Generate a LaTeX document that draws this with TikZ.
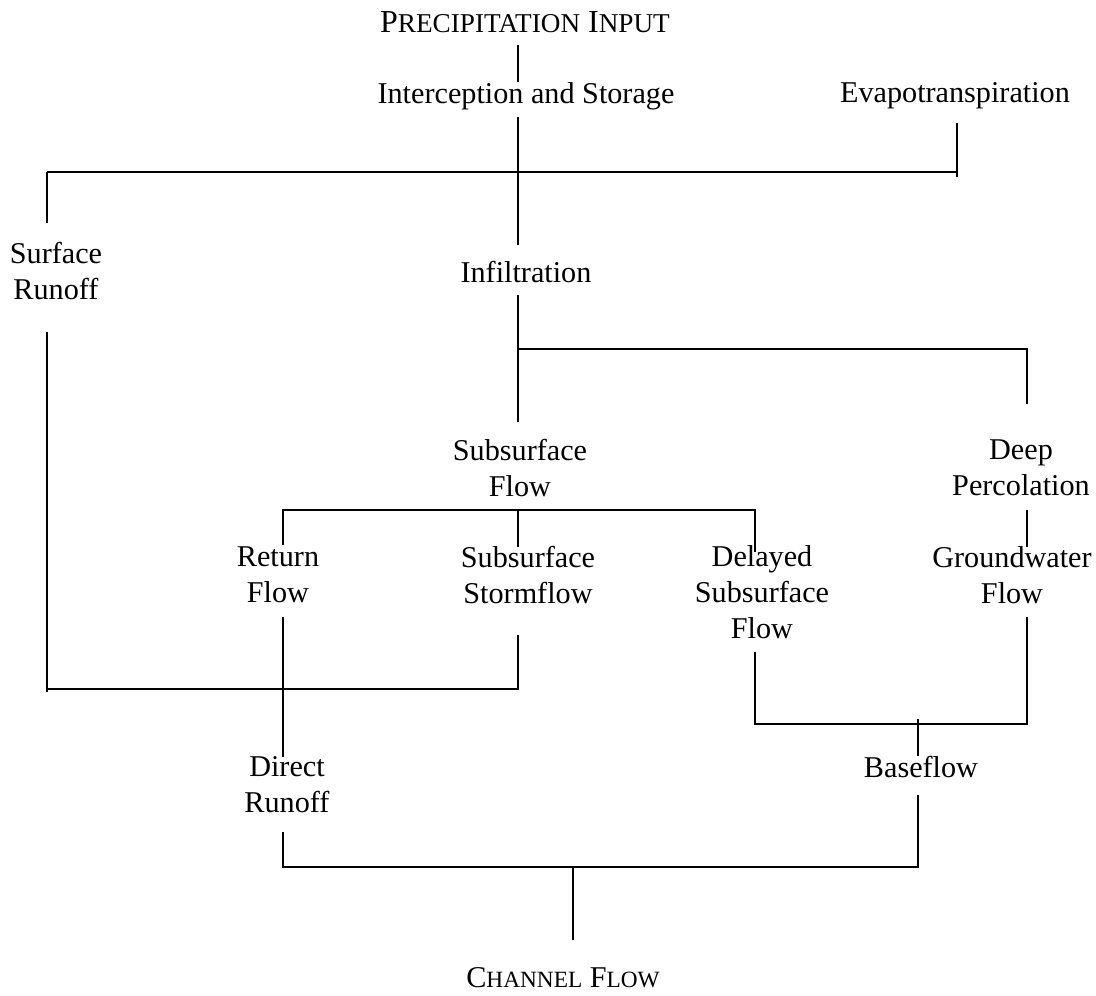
\documentclass[tikz,border=0pt]{standalone}
\usepackage{fontspec}
\setmainfont{Liberation Serif}
\newcommand{\smA}[1]{{\fontsize{27.2}{30}\selectfont #1}}
\newcommand{\smB}[1]{{\fontsize{23.3}{30}\selectfont #1}}
\begin{document}
\begin{tikzpicture}[x=1pt,y=-1pt,
  lbl/.style={inner sep=0pt, align=center, font=\fontsize{30.2}{36}\selectfont},
  ttl/.style={inner sep=0pt, align=center, font=\fontsize{32}{36}\selectfont},
  link/.style={line width=1.2pt, line cap=butt, line join=miter}]
\useasboundingbox[fill=white] (0,0) rectangle (1096,996);

% nodes
\node[ttl] (prec) at (525,22.5) {P\smA{RECIPITATION} I\smA{NPUT}};
\node[lbl] (inter) at (526,96) {Interception and Storage};
\node[lbl] (evap) at (955,96) {Evapotranspiration};
\node[lbl] (surf) at (56,271) {Surface\\Runoff};
\node[lbl] (infil) at (526,272) {Infiltration};
\node[lbl] (subflow) at (520,468) {Subsurface\\Flow};
\node[lbl] (deep) at (1021,468) {Deep\\Percolation};
\node[lbl] (ret) at (278,575) {Return\\Flow};
\node[lbl] (storm) at (528,575) {Subsurface\\Stormflow};
\node[lbl] (delay) at (762,592) {Delayed\\Subsurface\\Flow};
\node[lbl] (ground) at (1012,575) {Groundwater\\Flow};
\node[lbl] (direct) at (287,785) {Direct\\Runoff};
\node[lbl] (base) at (921,767) {Baseflow};
\node[ttl, font=\fontsize{30.2}{36}\selectfont] (chan) at (563,978) {C\smB{HANNEL} F\smB{LOW}};

% junction coordinates
\coordinate (p1) at (518,45);   \coordinate (p2) at (518,82);
\coordinate (i1) at (518,117);  \coordinate (i2) at (518,245);
\coordinate (e1) at (957,123);  \coordinate (e2) at (957,177);
\coordinate (hL) at (47,172);   \coordinate (hR) at (957,172);
\coordinate (s1) at (47,223);
\coordinate (s2) at (47,332);   \coordinate (s3) at (47,692);
\coordinate (dr1) at (47,689);  \coordinate (dr2) at (518,689);
\coordinate (st1) at (518,635);
\coordinate (f1) at (518,295);  \coordinate (f2) at (518,422);
\coordinate (f3) at (518,349);  \coordinate (f4) at (1027,349);
\coordinate (f5) at (1027,404);
\coordinate (b1) at (283,510);  \coordinate (b2) at (755,510);
\coordinate (b3) at (283,545);  \coordinate (b4) at (518,510);
\coordinate (b5) at (518,547);  \coordinate (b6) at (755,552);
\coordinate (g1) at (1027,510); \coordinate (g2) at (1027,547);
\coordinate (r1) at (283,617);  \coordinate (r2) at (283,757);
\coordinate (d1) at (755,652);  \coordinate (d2) at (755,724);
\coordinate (d3) at (1027,724); \coordinate (d4) at (1027,617);
\coordinate (bf1) at (918,719); \coordinate (bf2) at (918,756);
\coordinate (c1) at (283,832);  \coordinate (c2) at (283,867);
\coordinate (c3) at (918,867);  \coordinate (c4) at (918,795);
\coordinate (c5) at (573,867);  \coordinate (c6) at (573,940);

% connectors
\draw[link] (p1) -- (p2);
\draw[link] (i1) -- (i2);
\draw[link] (e1) -- (e2);
\draw[link] (hL) -- (hR);
\draw[link] (hL) -- (s1);
\draw[link] (s2) -- (s3);
\draw[link] (dr1) -- (dr2) -- (st1);
\draw[link] (f1) -- (f2);
\draw[link] (f3) -- (f4) -- (f5);
\draw[link] (b3) -- (b1) -- (b2) -- (b6);
\draw[link] (b4) -- (b5);
\draw[link] (g1) -- (g2);
\draw[link] (r1) -- (r2);
\draw[link] (d1) -- (d2) -- (d3) -- (d4);
\draw[link] (bf1) -- (bf2);
\draw[link] (c1) -- (c2) -- (c3) -- (c4);
\draw[link] (c5) -- (c6);
\end{tikzpicture}
\end{document}
